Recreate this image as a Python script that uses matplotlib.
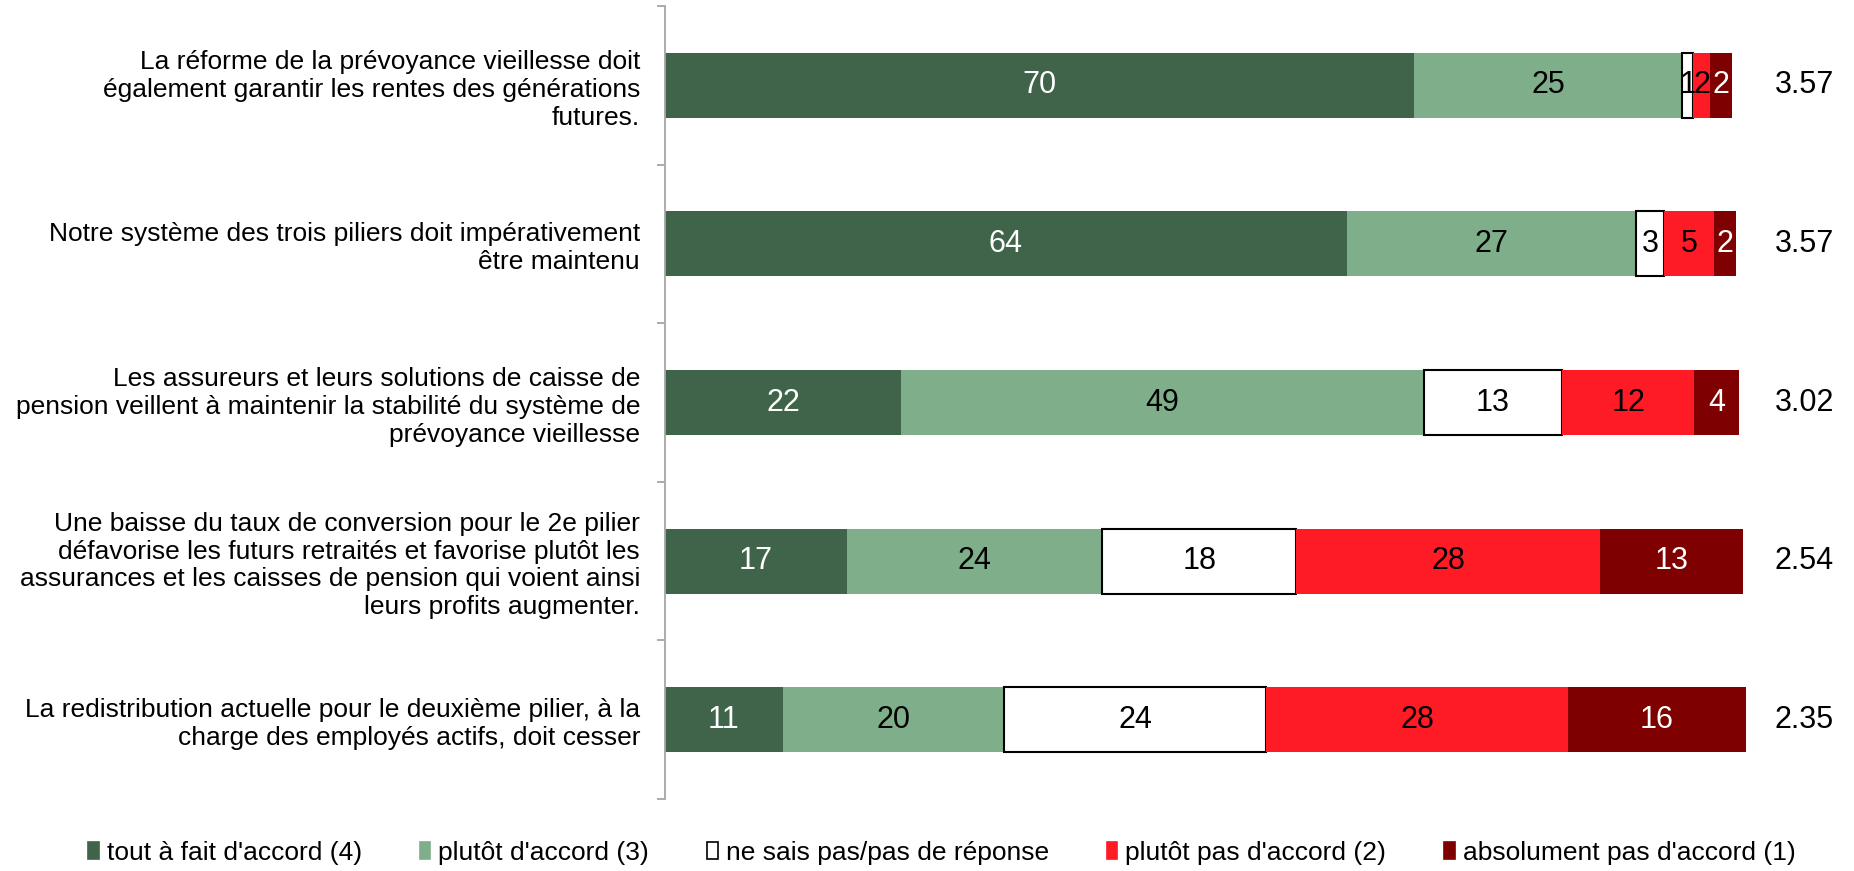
import numpy as np
import matplotlib
matplotlib.use("Agg")
import matplotlib.pyplot as plt
from matplotlib.patches import Patch

plt.rcParams['font.family'] = ['Liberation Sans', 'DejaVu Sans']

categories = [
    "La réforme de la prévoyance vieillesse doit\négalement garantir les rentes des générations\nfutures.",
    "Notre système des trois piliers doit impérativement\nêtre maintenu",
    "Les assureurs et leurs solutions de caisse de\npension veillent à maintenir la stabilité du système de\nprévoyance vieillesse",
    "Une baisse du taux de conversion pour le 2e pilier\ndéfavorise les futurs retraités et favorise plutôt les\nassurances et les caisses de pension qui voient ainsi\nleurs profits augmenter.",
    "La redistribution actuelle pour le deuxième pilier, à la\ncharge des employés actifs, doit cesser",
]

series_names = [
    "tout à fait d'accord (4)",
    "plutôt d'accord (3)",
    "ne sais pas/pas de réponse",
    "plutôt pas d'accord (2)",
    "absolument pas d'accord (1)",
]

# bar lengths (percent)
tout_accord = [69.9, 63.6, 22.0, 17.0, 11.0]
plutot_accord = [25.0, 27.0, 48.8, 23.8, 20.6]
ne_sais_pas = [1.0, 2.6, 12.9, 18.1, 24.5]
plutot_pas = [1.6, 4.7, 12.3, 28.3, 28.1]
absolument_pas = [2.0, 2.0, 4.2, 13.4, 16.6]

# printed labels
lab_tout = [70, 64, 22, 17, 11]
lab_plutot = [25, 27, 49, 24, 20]
lab_nsp = [1, 3, 13, 18, 24]
lab_plutot_pas = [2, 5, 12, 28, 28]
lab_absolument = [2, 2, 4, 13, 16]

mean_scores = ["3.57", "3.57", "3.02", "2.54", "2.35"]

colors = ["#40644A", "#7FAF8A", "#FFFFFF", "#FE1B25", "#7F0000"]
edgecolors = ["#40644A", "#7FAF8A", "#000000", "#FE1B25", "#7F0000"]
text_colors = ["white", "black", "black", "black", "white"]

values = [tout_accord, plutot_accord, ne_sais_pas, plutot_pas, absolument_pas]
labels = [lab_tout, lab_plutot, lab_nsp, lab_plutot_pas, lab_absolument]

W, H = 1854, 871
XMAX = 102.0
fig = plt.figure(figsize=(W / 100, H / 100), dpi=100)
ax = fig.add_axes([665 / W, 72 / H, 10.72 * XMAX / W, 793 / H])

y = np.arange(len(categories))
left = np.zeros(len(categories))
for vals, labs, c, ec, tc in zip(values, labels, colors, edgecolors, text_colors):
    vals = np.array(vals, dtype=float)
    lw = 1.5 if c == "#FFFFFF" else 0.0
    ax.barh(y, vals, left=left, height=0.41, color=c, edgecolor=ec, linewidth=lw, zorder=2)
    for i in range(len(y)):
        ax.text(left[i] + vals[i] / 2, y[i], str(labs[i]), ha="center", va="center",
                fontsize=22, color=tc, zorder=3)
    left += vals

for i, m in enumerate(mean_scores):
    ax.text(106.3, y[i], m, ha="center", va="center", fontsize=22, color="black", clip_on=False)

ax.set_xlim(0, XMAX)
ax.set_ylim(len(categories) - 0.5, -0.5)

for s in ["top", "right", "bottom"]:
    ax.spines[s].set_visible(False)
ax.spines["left"].set_color("#A6A6A6")
ax.spines["left"].set_linewidth(1.3)
ax.set_xticks([])

ax.set_yticks(y)
ax.set_yticklabels(categories, fontsize=19)
ax.tick_params(axis="y", which="major", length=0, pad=18)
ax.set_yticks(np.arange(-0.5, len(categories), 1.0), minor=True)
ax.tick_params(axis="y", which="minor", length=6, width=1.3, color="#A6A6A6", direction="out")

handles = [Patch(facecolor=c, edgecolor=("#000000" if c == "#FFFFFF" else c), linewidth=1.2)
           for c in colors]
fig.legend(handles, series_names, loc="center", bbox_to_anchor=(0.508, 18 / H), ncol=5,
           frameon=False, fontsize=19, handlelength=0.4, handleheight=0.6,
           handletextpad=0.3, columnspacing=2.2, borderpad=0)

fig.savefig("out.png", dpi=100)
